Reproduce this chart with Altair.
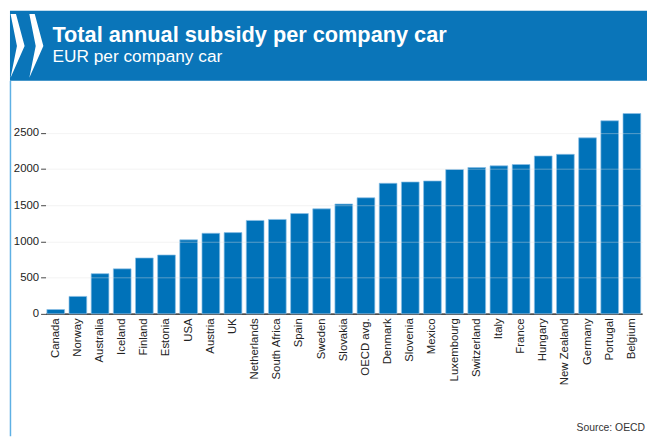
import altair as alt
import pandas as pd

countries = ["Canada", "Norway", "Australia", "Iceland", "Finland", "Estonia", "USA",
             "Austria", "UK", "Netherlands", "South Africa", "Spain", "Sweden", "Slovakia",
             "OECD avg.", "Denmark", "Slovenia", "Mexico", "Luxembourg", "Switzerland",
             "Italy", "France", "Hungary", "New Zealand", "Germany", "Portugal", "Belgium"]
subsidy = [60, 241, 555, 622, 772, 813, 1022, 1113, 1122, 1290, 1304, 1385, 1450, 1517,
           1603, 1803, 1821, 1835, 1993, 2021, 2044, 2062, 2180, 2203, 2430, 2666, 2766]
y_ticks = [0, 500, 1000, 1500, 2000, 2500]

title_text = "Total annual subsidy per company car"
subtitle_text = "EUR per company car"
source_text = "Source: OECD"

FONT = "Liberation Sans"
BAR = "#0072b9"
HEADER = "#0a75b9"

df = pd.DataFrame({"country": countries, "value": subsidy})
one = pd.DataFrame({"k": [0]})

bars = alt.Chart(df).mark_bar(color=BAR, stroke="#8ec1e6", strokeWidth=0.7).encode(
    x=alt.X("country:N", sort=None,
            scale=alt.Scale(paddingInner=0.2, paddingOuter=0.06),
            axis=alt.Axis(title=None, labelAngle=270, ticks=False, domain=True,
                          domainColor="#000000", domainWidth=1.5, labelPadding=4,
                          labelFont=FONT, labelFontSize=11.5, labelColor="#222222")),
    y=alt.Y("value:Q", scale=alt.Scale(domain=[0, 3000], nice=False),
            axis=alt.Axis(title=None, values=y_ticks, format="d", tickSize=5,
                          tickColor="#444444", domain=False, grid=True,
                          gridColor="#e0e0e0", gridOpacity=0.4,
                          labelPadding=2, labelFont=FONT, labelFontSize=11.5,
                          labelColor="#222222", zindex=1)),
)

header = alt.Chart(one).mark_rect(color=HEADER).encode(
    x=alt.value(-36), x2=alt.value(609), y=alt.value(-87), y2=alt.value(-16))

left_line = alt.Chart(one).mark_rule(color="#5eb0e4", strokeWidth=1.5).encode(
    x=alt.value(-35.5), y=alt.value(-16), y2=alt.value(344))

chev_path = "M -0.22 -1 L -0.05 -1 L 0.22 0 L -0.22 1 L -0.02 0 Z"
chev1 = alt.Chart(one).mark_point(shape=chev_path, filled=True, color="#ffffff",
                                  opacity=1, size=4173, strokeWidth=0).encode(
    x=alt.value(-28.3), y=alt.value(-51.3))
chev2 = alt.Chart(one).mark_point(shape=chev_path, filled=True, color="#ffffff",
                                  opacity=1, size=4173, strokeWidth=0).encode(
    x=alt.value(-9.3), y=alt.value(-51.3))

title = alt.Chart(one).mark_text(text=title_text, font=FONT, fontSize=22, fontWeight="bold",
                                 color="#ffffff", align="left", baseline="alphabetic").encode(
    x=alt.value(7), y=alt.value(-55))
subtitle = alt.Chart(one).mark_text(text=subtitle_text, font=FONT, fontSize=17.5,
                                    color="#ffffff", align="left", baseline="alphabetic").encode(
    x=alt.value(7), y=alt.value(-35))
source = alt.Chart(one).mark_text(text=source_text, font=FONT, fontSize=10.5,
                                  color="#333333", align="right", baseline="alphabetic").encode(
    x=alt.value(607), y=alt.value(339))

chart = alt.layer(header, left_line, chev1, chev2, title, subtitle, bars, source).properties(
    width=604, height=220,
    padding={"left": 38, "top": 87, "right": 5, "bottom": 124},
    autosize=alt.AutoSizeParams(type="none"),
    background="#ffffff",
).configure_view(stroke=None)

chart.save("out.html", embed_options={"renderer": "svg", "actions": False})
